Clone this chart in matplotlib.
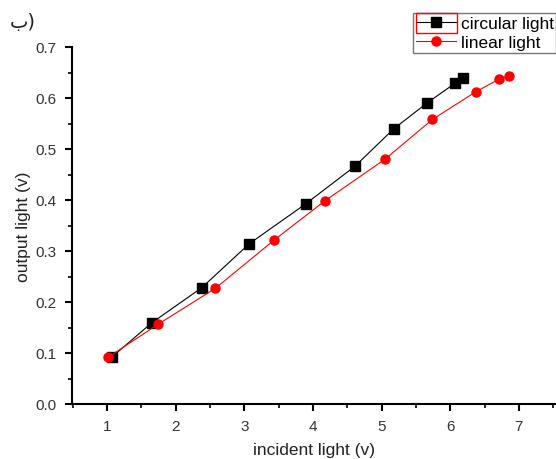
import matplotlib
matplotlib.use('Agg')
import matplotlib.pyplot as plt
from matplotlib.patches import Rectangle
from matplotlib.ticker import MultipleLocator, FormatStrFormatter

# valores
x_circular = [1.07, 1.65, 2.38, 3.07, 3.90, 4.61, 5.18, 5.66, 6.07, 6.18]
y_circular = [0.092, 0.159, 0.228, 0.314, 0.393, 0.466, 0.540, 0.590, 0.629, 0.640]

x_linear = [1.02, 1.74, 2.58, 3.43, 4.17, 5.05, 5.74, 6.37, 6.71, 6.86]
y_linear = [0.092, 0.156, 0.227, 0.321, 0.398, 0.480, 0.558, 0.612, 0.637, 0.643]

plt.rcParams['font.family'] = ['Liberation Sans', 'DejaVu Sans']

fig = plt.figure(figsize=(5.56, 4.6), dpi=100)
ax = fig.add_axes([72/556, 55/460, 484/556, 357/460])

ax.plot(x_circular, y_circular, color='black', lw=0.8, marker='s', ms=6.5,
        label='circular light')
ax.plot(x_linear, y_linear, color='red', lw=0.8, marker='o', ms=6.5,
        label='linear light')

ax.set_xlim(0.49, 7.54)
ax.set_ylim(0.0, 0.7)
ax.xaxis.set_major_locator(MultipleLocator(1))
ax.xaxis.set_minor_locator(MultipleLocator(0.5))
ax.yaxis.set_major_locator(MultipleLocator(0.1))
ax.yaxis.set_minor_locator(MultipleLocator(0.05))
ax.yaxis.set_major_formatter(FormatStrFormatter('%.1f'))

for s in ['top', 'right']:
    ax.spines[s].set_visible(False)
for s in ['left', 'bottom']:
    ax.spines[s].set_linewidth(1.5)

ax.tick_params(which='major', direction='out', length=5, width=1.5,
               labelsize=11, labelcolor='#333333', pad=6)
ax.tick_params(which='minor', direction='out', length=3, width=1.2)

ax.set_xlabel('incident light (v)', fontsize=12.5, color='#222222', labelpad=6.5)
ax.set_ylabel('output light (v)', fontsize=12.5, color='#222222', labelpad=3)

leg = fig.legend(loc='upper left', bbox_to_anchor=(413/556, 1 - 14/460),
                 fontsize=12.5, frameon=True, fancybox=False, borderpad=0.15,
                 handlelength=2.3, handletextpad=0.3, labelspacing=0.25,
                 borderaxespad=0)
leg.get_frame().set_edgecolor('#555555')
leg.get_frame().set_linewidth(1.0)

# recuadro rojo del programa original
fig.patches.append(Rectangle((416/556, 1 - 34/460), 41/556, 20/460,
                             transform=fig.transFigure, fill=False,
                             edgecolor='red', lw=1.0, zorder=10))

fig.text(10/556, 1 - 28/460, 'ب)', fontsize=14, color='#222222',
         family=['DejaVu Sans'])

fig.savefig('out.png', dpi=100)
